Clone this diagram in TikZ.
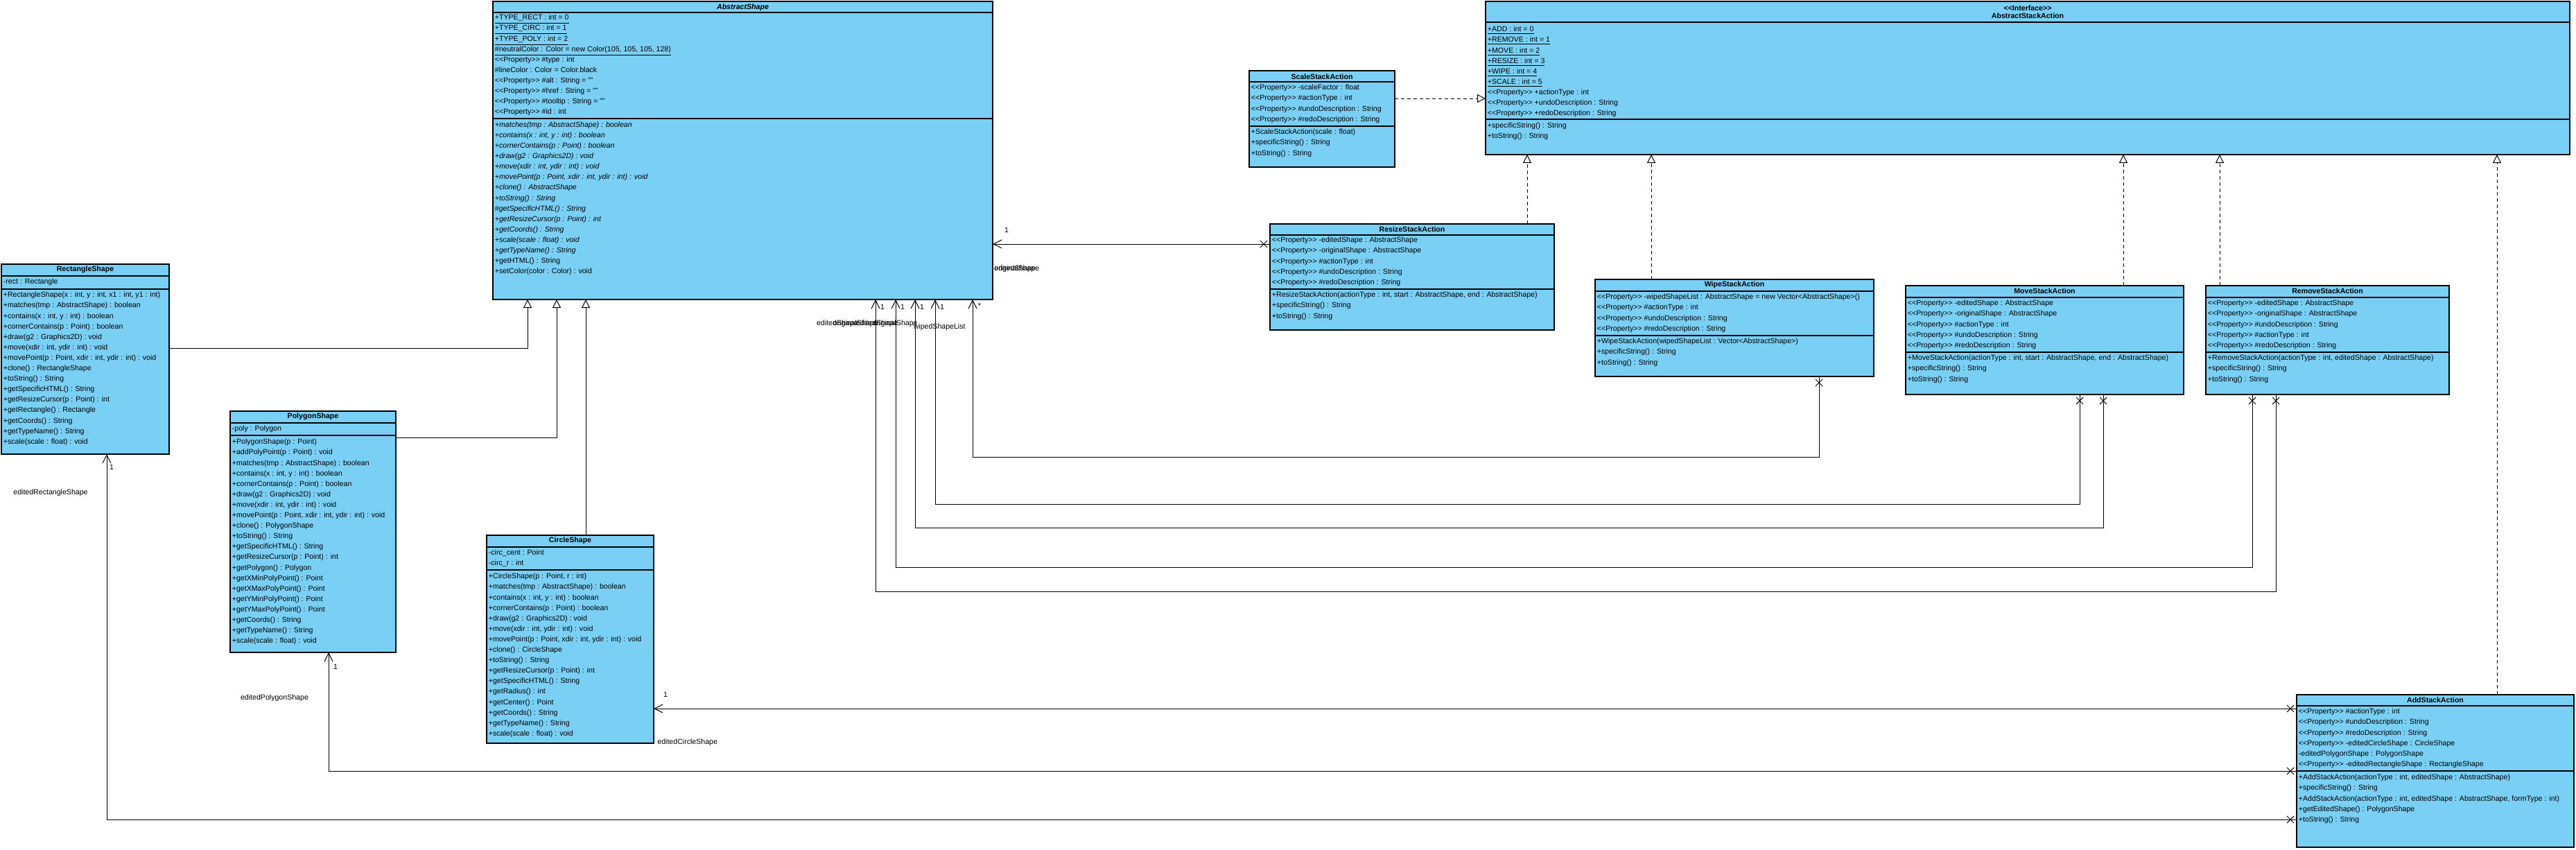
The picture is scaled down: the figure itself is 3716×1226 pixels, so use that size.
\documentclass[tikz,border=0pt]{standalone}
\usepackage{fontspec}
\setmainfont{Liberation Sans}
\usetikzlibrary{arrows.meta,fit}
\definecolor{umlblue}{RGB}{122,207,245}
\newcommand\PP{<{}<Property>{}>}
\tikzset{
 classbox/.style={draw=black, fill=umlblue, line width=0.6pt, inner sep=0pt, outer sep=0pt},
 sepline/.style={draw=black, line width=0.6pt},
 rowst/.style={anchor=west, inner sep=0pt, font=\fontsize{5.3}{6.4}\selectfont, text height=3.9pt, text depth=1.1pt},
 titlest/.style={anchor=center, inner sep=0pt, font=\fontsize{5.3}{6.4}\selectfont\bfseries},
 lbl/.style={inner sep=0pt, font=\fontsize{5.3}{6.4}\selectfont},
 conn/.style={draw=black, line width=0.5pt},
 gen/.style={conn, -{Triangle[open, length=6pt, width=6pt, fill=white]}},
 realz/.style={gen, dash pattern=on 2.5pt off 2pt},
 assoc/.style={conn, -{Straight Barb[length=6pt, width=6pt]}},
}
\newcommand\cbox[5]{\node[classbox, fit={(#2,#3)(#4,#5)}] (#1) {};}
\newcommand\csep[3]{\draw[sepline] (#1,#3) -- (#2,#3);}
\newcommand\crows[4]{\foreach \rowtxt [count=\ri] in {#4}{\node[rowst] (#1\ri) at (#2,{#3+(\ri-1)*15.1}) {\rowtxt};}}
\newcommand\xm[2]{\draw[conn] ({#1-5},{#2-5}) -- ({#1+5},{#2+5}) ({#1-5},{#2+5}) -- ({#1+5},{#2-5});}
\begin{document}
\begin{tikzpicture}[x=0.5pt,y=-0.5pt]
\useasboundingbox (0,0) rectangle (3716,1226);
\fill[white] (0,0) rectangle (3716,1226);

% ---------- AbstractShape
\cbox{AS}{711}{2}{1432}{432}
\node[titlest] (ASt) at (1071.5,10.5) {\textit{AbstractShape}};
\csep{711}{1432}{18}
\crows{ASa}{713.5}{26}{{\underline{+TYPE\_RECT : int = 0}},{\underline{+TYPE\_CIRC : int = 1}},{\underline{+TYPE\_POLY : int = 2}},{\underline{\#neutralColor : Color = new Color(105, 105, 105, 128)}},{\PP{} \#type : int},{\#lineColor : Color = Color.black},{\PP{} \#alt : String = ""},{\PP{} \#href : String = ""},{\PP{} \#tooltip : String = ""},{\PP{} \#id : int}}
\csep{711}{1432}{171}
\crows{ASm}{713.5}{180.5}{{\textit{+matches(tmp : AbstractShape) : boolean}},{\textit{+contains(x : int, y : int) : boolean}},{\textit{+cornerContains(p : Point) : boolean}},{\textit{+draw(g2 : Graphics2D) : void}},{\textit{+move(xdir : int, ydir : int) : void}},{\textit{+movePoint(p : Point, xdir : int, ydir : int) : void}},{\textit{+clone() : AbstractShape}},{\textit{+toString() : String}},{\textit{\#getSpecificHTML() : String}},{\textit{+getResizeCursor(p : Point) : int}},{\textit{+getCoords() : String}},{\textit{+scale(scale : float) : void}},{\textit{+getTypeName() : String}},{+getHTML() : String},{+setColor(color : Color) : void}}

% ---------- AbstractStackAction
\cbox{ASA}{2143}{2}{3707}{223}
\node[titlest] (ASAs) at (2925,12) {<{}<Interface>{}>};
\node[titlest] (ASAt) at (2925,23) {AbstractStackAction};
\csep{2143}{3707}{32}
\crows{ASAa}{2145.5}{43}{{\underline{+ADD : int = 0}},{\underline{+REMOVE : int = 1}},{\underline{+MOVE : int = 2}},{\underline{+RESIZE : int = 3}},{\underline{+WIPE : int = 4}},{\underline{+SCALE : int = 5}},{\PP{} +actionType : int},{\PP{} +undoDescription : String},{\PP{} +redoDescription : String}}
\csep{2143}{3707}{172}
\crows{ASAm}{2145.5}{182}{{+specificString() : String},{+toString() : String}}

% ---------- ScaleStackAction
\cbox{SC}{1802}{102}{2012}{241}
\node[titlest] (SCt) at (1907,110.5) {ScaleStackAction};
\csep{1802}{2012}{118}
\crows{SCa}{1804.5}{127}{{\PP{} -scaleFactor : float},{\PP{} \#actionType : int},{\PP{} \#undoDescription : String},{\PP{} \#redoDescription : String}}
\csep{1802}{2012}{182}
\crows{SCm}{1804.5}{191}{{+ScaleStackAction(scale : float)},{+specificString() : String},{+toString() : String}}

% ---------- ResizeStackAction
\cbox{RZ}{1832}{323}{2242}{476}
\node[titlest] (RZt) at (2037,331) {ResizeStackAction};
\csep{1832}{2242}{339}
\crows{RZa}{1834.5}{347}{{\PP{} -editedShape : AbstractShape},{\PP{} -originalShape : AbstractShape},{\PP{} \#actionType : int},{\PP{} \#undoDescription : String},{\PP{} \#redoDescription : String}}
\csep{1832}{2242}{417}
\crows{RZm}{1834.5}{426}{{+ResizeStackAction(actionType : int, start : AbstractShape, end : AbstractShape)},{+specificString() : String},{+toString() : String}}

% ---------- WipeStackAction
\cbox{WP}{2301}{403}{2703}{543}
\node[titlest] (WPt) at (2502,411) {WipeStackAction};
\csep{2301}{2703}{420}
\crows{WPa}{2303.5}{429}{{\PP{} -wipedShapeList : AbstractShape = new Vector<AbstractShape>()},{\PP{} \#actionType : int},{\PP{} \#undoDescription : String},{\PP{} \#redoDescription : String}}
\csep{2301}{2703}{484}
\crows{WPm}{2303.5}{493}{{+WipeStackAction(wipedShapeList : Vector<AbstractShape>)},{+specificString() : String},{+toString() : String}}

% ---------- MoveStackAction
\cbox{MV}{2749}{412}{3150}{569}
\node[titlest] (MVt) at (2949.5,420) {MoveStackAction};
\csep{2749}{3150}{429}
\crows{MVa}{2751.5}{438}{{\PP{} -editedShape : AbstractShape},{\PP{} -originalShape : AbstractShape},{\PP{} \#actionType : int},{\PP{} \#undoDescription : String},{\PP{} \#redoDescription : String}}
\csep{2749}{3150}{508}
\crows{MVm}{2751.5}{517}{{+MoveStackAction(actionType : int, start : AbstractShape, end : AbstractShape)},{+specificString() : String},{+toString() : String}}

% ---------- RemoveStackAction
\cbox{RM}{3182}{412}{3533}{569}
\node[titlest] (RMt) at (3357.5,420) {RemoveStackAction};
\csep{3182}{3533}{429}
\crows{RMa}{3184.5}{438}{{\PP{} -editedShape : AbstractShape},{\PP{} -originalShape : AbstractShape},{\PP{} \#undoDescription : String},{\PP{} \#actionType : int},{\PP{} \#redoDescription : String}}
\csep{3182}{3533}{508}
\crows{RMm}{3184.5}{517}{{+RemoveStackAction(actionType : int, editedShape : AbstractShape)},{+specificString() : String},{+toString() : String}}

% ---------- AddStackAction
\cbox{AD}{3313}{1002}{3713}{1222}
\node[titlest] (ADt) at (3513,1010) {AddStackAction};
\csep{3313}{3713}{1018}
\crows{ADa}{3315.5}{1027}{{\PP{} \#actionType : int},{\PP{} \#undoDescription : String},{\PP{} \#redoDescription : String},{\PP{} -editedCircleShape : CircleShape},{-editedPolygonShape : PolygonShape},{\PP{} -editedRectangleShape : RectangleShape}}
\csep{3313}{3713}{1112}
\crows{ADm}{3315.5}{1122}{{+AddStackAction(actionType : int, editedShape : AbstractShape)},{+specificString() : String},{+AddStackAction(actionType : int, editedShape : AbstractShape, formType : int)},{+getEditedShape() : PolygonShape},{+toString() : String}}

% ---------- RectangleShape
\cbox{RS}{2}{381}{244}{655}
\node[titlest] (RSt) at (123,389) {RectangleShape};
\csep{2}{244}{398}
\crows{RSa}{4.5}{407}{{-rect : Rectangle}}
\csep{2}{244}{417}
\crows{RSm}{4.5}{426}{{+RectangleShape(x : int, y : int, x1 : int, y1 : int)},{+matches(tmp : AbstractShape) : boolean},{+contains(x : int, y : int) : boolean},{+cornerContains(p : Point) : boolean},{+draw(g2 : Graphics2D) : void},{+move(xdir : int, ydir : int) : void},{+movePoint(p : Point, xdir : int, ydir : int) : void},{+clone() : RectangleShape},{+toString() : String},{+getSpecificHTML() : String},{+getResizeCursor(p : Point) : int},{+getRectangle() : Rectangle},{+getCoords() : String},{+getTypeName() : String},{+scale(scale : float) : void}}

% ---------- PolygonShape
\cbox{PS}{332}{593}{571}{941}
\node[titlest] (PSt) at (451.5,601) {PolygonShape};
\csep{332}{571}{610}
\crows{PSa}{334.5}{619}{{-poly : Polygon}}
\csep{332}{571}{628}
\crows{PSm}{334.5}{638}{{+PolygonShape(p : Point)},{+addPolyPoint(p : Point) : void},{+matches(tmp : AbstractShape) : boolean},{+contains(x : int, y : int) : boolean},{+cornerContains(p : Point) : boolean},{+draw(g2 : Graphics2D) : void},{+move(xdir : int, ydir : int) : void},{+movePoint(p : Point, xdir : int, ydir : int) : void},{+clone() : PolygonShape},{+toString() : String},{+getSpecificHTML() : String},{+getResizeCursor(p : Point) : int},{+getPolygon() : Polygon},{+getXMinPolyPoint() : Point},{+getXMaxPolyPoint() : Point},{+getYMinPolyPoint() : Point},{+getYMaxPolyPoint() : Point},{+getCoords() : String},{+getTypeName() : String},{+scale(scale : float) : void}}

% ---------- CircleShape
\cbox{CS}{702}{772}{943}{1072}
\node[titlest] (CSt) at (822.5,780) {CircleShape};
\csep{702}{943}{789}
\crows{CSa}{704.5}{798}{{-circ\_cent : Point},{-circ\_r : int}}
\csep{702}{943}{822}
\crows{CSm}{704.5}{832}{{+CircleShape(p : Point, r : int)},{+matches(tmp : AbstractShape) : boolean},{+contains(x : int, y : int) : boolean},{+cornerContains(p : Point) : boolean},{+draw(g2 : Graphics2D) : void},{+move(xdir : int, ydir : int) : void},{+movePoint(p : Point, xdir : int, ydir : int) : void},{+clone() : CircleShape},{+toString() : String},{+getResizeCursor(p : Point) : int},{+getSpecificHTML() : String},{+getRadius() : int},{+getCenter() : Point},{+getCoords() : String},{+getTypeName() : String},{+scale(scale : float) : void}}

% ---------- generalizations / realizations
\draw[gen] (RS.east |- 0,502) -| (AS.south -| 761,0);
\draw[gen] (PS.east |- 0,631) -| (AS.south -| 803,0);
\draw[gen] (CS.north -| 845,0) -- (AS.south -| 845,0);
\draw[realz] (SC.east |- 0,142) -- (ASA.west |- 0,142);
\draw[realz] (RZ.north -| 2203,0) -- (ASA.south -| 2203,0);
\draw[realz] (WP.north -| 2382,0) -- (ASA.south -| 2382,0);
\draw[realz] (MV.north -| 3063,0) -- (ASA.south -| 3063,0);
\draw[realz] (RM.north -| 3202,0) -- (ASA.south -| 3202,0);
\draw[realz] (AD.north -| 3602,0) -- (ASA.south -| 3602,0);

% ---------- associations
\draw[assoc] (RZ.west |- 0,352) -- (AS.east |- 0,352);
\draw[assoc] (WP.south -| 2624,0) -- (2624,659) -| (AS.south -| 1403,0);
\draw[assoc] (MV.south -| 3000,0) -- (3000,727) -| (AS.south -| 1349,0);
\draw[assoc] (MV.south -| 3034,0) -- (3034,761) -| (AS.south -| 1320,0);
\draw[assoc] (RM.south -| 3249,0) -- (3249,818) -| (AS.south -| 1292,0);
\draw[assoc] (RM.south -| 3283,0) -- (3283,853) -| (AS.south -| 1263,0);
\draw[assoc] (AD.west |- 0,1022) -- (CS.east |- 0,1022);
\draw[assoc] (AD.west |- 0,1112) -| (PS.south -| 474,0);
\draw[assoc] (AD.west |- 0,1182) -| (RS.south -| 154,0);

\xm{1823}{352}
\xm{2624}{552}
\xm{3000}{578}
\xm{3034}{578}
\xm{3249}{578}
\xm{3283}{578}
\xm{3304}{1022}
\xm{3304}{1112}
\xm{3304}{1182}

% ---------- labels
\node[lbl] (L1) at (1452,332) {1};
\node[lbl, anchor=west] (L2) at (1434,388) {originalShape};
\node[lbl, anchor=west] (L3) at (1434,388) {editedShape};
\node[lbl] (L4) at (1273,443) {1};
\node[lbl] (L5) at (1302,443) {1};
\node[lbl] (L6) at (1330,443) {1};
\node[lbl] (L7) at (1359,443) {1};
\node[lbl] (L8) at (1413,441) {*};
\node[lbl, anchor=east] (L9) at (1238,467) {editedShape};
\node[lbl, anchor=east] (L10) at (1267,467) {originalShape};
\node[lbl, anchor=east] (L11) at (1295,467) {editedShape};
\node[lbl, anchor=east] (L12) at (1324,467) {originalShape};
\node[lbl, anchor=east] (L13) at (1393,472) {wipedShapeList};
\node[lbl] (L14) at (960,1002) {1};
\node[lbl, anchor=west] (L15) at (948,1071) {editedCircleShape};
\node[lbl] (L16) at (484,962) {1};
\node[lbl] (L17) at (396,1007) {editedPolygonShape};
\node[lbl] (L18) at (161,674) {1};
\node[lbl] (L19) at (73,711) {editedRectangleShape};
\end{tikzpicture}
\end{document}
